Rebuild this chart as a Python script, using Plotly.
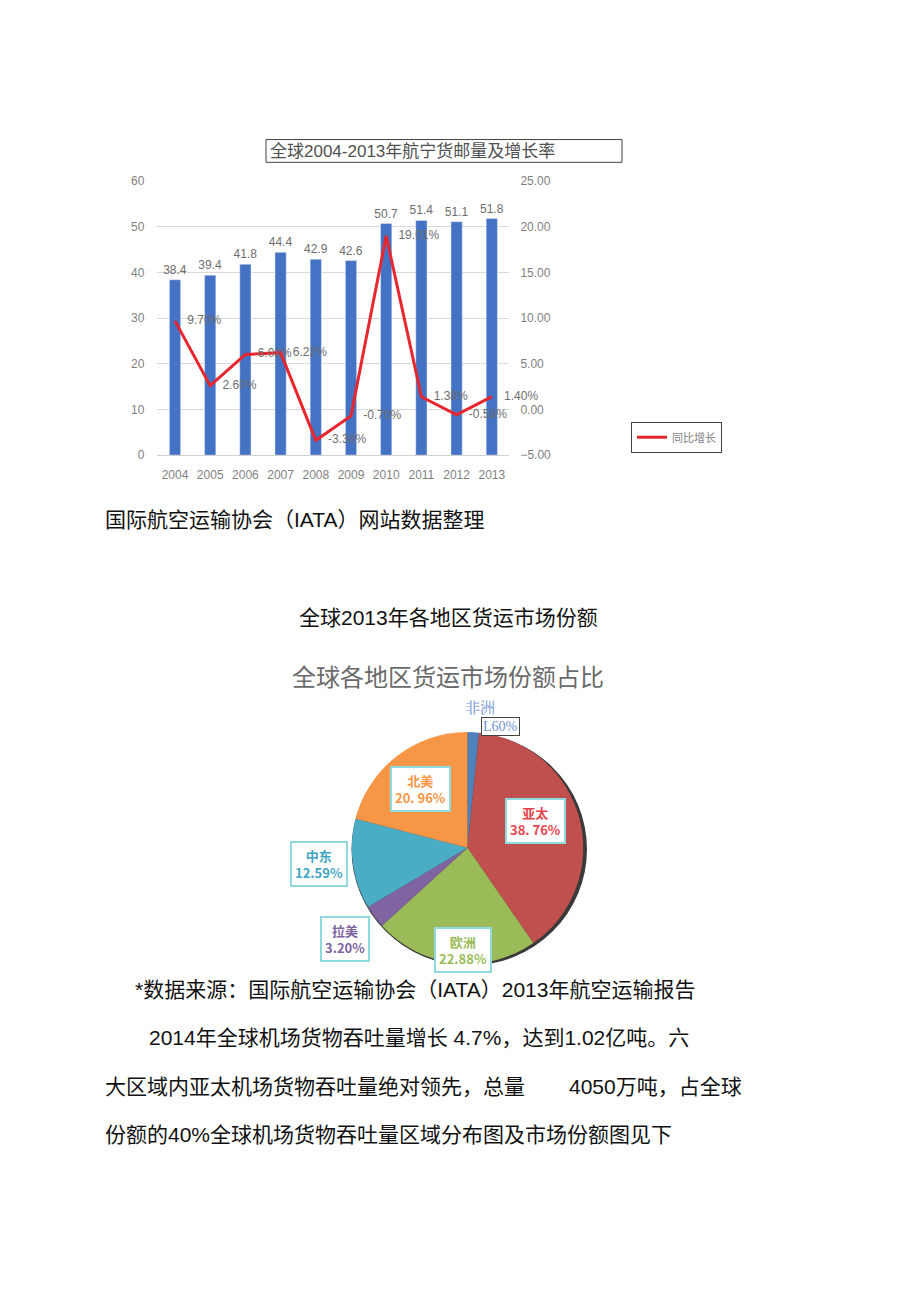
import plotly.graph_objects as go

W, H = 920, 1303

years = ["2004", "2005", "2006", "2007", "2008", "2009", "2010", "2011", "2012", "2013"]
volume = [38.4, 39.4, 41.8, 44.4, 42.9, 42.6, 50.7, 51.4, 51.1, 51.8]
growth = [9.70, 2.60, 6.02, 6.22, -3.38, -0.70, 19.01, 1.38, -0.58, 1.40]
growth_ticks = [-5, 0, 5, 10, 15, 20, 25]

regions = ["非洲", "亚太", "欧洲", "拉美", "中东", "北美"]
shares = [1.60, 38.76, 22.88, 3.20, 12.59, 20.96]
share_text = ["L60%", "38. 76%", "22.88%", "3.20%", "12.59%", "20. 96%"]
region_colors = ["#4f81bd", "#c0504d", "#9bbb59", "#8064a2", "#4bacc6", "#f79646"]
label_colors = ["#6f93d2", "#e8434b", "#9bbb59", "#8064a2", "#3fa6c4", "#f79646"]

CJK = "Liberation Sans, Noto Sans CJK SC, sans-serif"
GRAY = "#7f7f7f"


def px_x(x):
    return x / W


def px_y(y):
    return 1 - y / H


fig = go.Figure()

fig.add_trace(go.Bar(
    x=years, y=volume, width=0.32, marker_color="#4472c4",
    text=[f"{v:.1f}" for v in volume], textposition="outside", constraintext="none",
    textfont=dict(size=12, color="#6d6d6d"), cliponaxis=False,
    showlegend=False, xaxis="x", yaxis="y",
))

fig.add_trace(go.Scatter(
    x=years, y=growth, mode="lines+markers+text", name="同比增长",
    line=dict(color="#e8262e", width=3),
    marker=dict(size=18, color="rgba(0,0,0,0)"),
    text=[f"{v:.2f}%" for v in growth], textposition="middle right",
    textfont=dict(size=12, color="#6d6d6d"), cliponaxis=False,
    xaxis="x", yaxis="y2",
))

# soft dark edge under the pie
fig.add_shape(type="circle", xref="paper", yref="paper", layer="below",
              x0=px_x(351.5), x1=px_x(587), y0=px_y(969), y1=px_y(734),
              fillcolor="#3a3a3a", line_width=0)

fig.add_trace(go.Pie(
    labels=regions, values=shares, sort=False, direction="clockwise",
    rotation=0, marker=dict(colors=region_colors, line=dict(width=0)),
    textinfo="none", hoverinfo="label+percent", showlegend=False,
    domain=dict(x=[px_x(350), px_x(585)], y=[px_y(967), px_y(733)]),
))

# chart title box
fig.add_shape(type="rect", xref="paper", yref="paper",
              x0=px_x(266), x1=px_x(622), y0=px_y(157), y1=px_y(134),
              line=dict(color="#404040", width=1))

ann = []


def text(x, y, s, size, color="#111111", xanchor="left", **kw):
    ann.append(dict(x=px_x(x), y=px_y(y), xref="paper", yref="paper", text=s,
                    showarrow=False, xanchor=xanchor, yanchor="middle",
                    font=dict(size=size, color=color, family=kw.pop("family", CJK)), **kw))


text(268, 146, "全球2004-2013年航宁货邮量及增长率", 17, "#505050")
text(103, 518, "国际航空运输协会（IATA）网站数据整理", 21)
text(448, 617, "全球2013年各地区货运市场份额", 21, xanchor="center")
text(448, 678, "全球各地区货运市场份额占比", 24, "#6a6a6a", xanchor="center")

# pie labels
text(480, 707, regions[0], 15, label_colors[0], xanchor="center",
     family="Noto Serif CJK SC, Noto Sans CJK SC")
text(500, 727, share_text[0], 14, label_colors[0], xanchor="center",
     family="Liberation Serif, serif", bordercolor="#404040", borderwidth=1,
     borderpad=1, bgcolor="white")
label_pos = {1: (535, 823), 2: (463, 953), 3: (345, 942), 4: (319, 866), 5: (420, 790)}
for i, (lx, ly) in label_pos.items():
    text(lx, ly, f"<b>{regions[i]}</b><br><b>{share_text[i]}</b>", 13, label_colors[i],
         xanchor="center", bordercolor="#8fdadf", borderwidth=2, borderpad=3,
         bgcolor="white", family="Noto Sans CJK SC")

text(133, 993, "*数据来源：国际航空运输协会（IATA）2013年航空运输报告", 21)
text(147, 1042, "2014年全球机场货物吞吐量增长 4.7%，达到1.02亿吨。六", 21)
text(103, 1091, "大区域内亚太机场货物吞吐量绝对领先，总量", 21)
text(567, 1091, "4050万吨，占全球", 21)
text(103, 1140, "份额的40%全球机场货物吞吐量区域分布图及市场份额图见下", 21)

fig.update_layout(
    width=W, height=H, margin=dict(l=0, r=0, t=0, b=0, pad=0),
    paper_bgcolor="white", plot_bgcolor="white",
    font=dict(family=CJK, color=GRAY, size=12),
    annotations=ann, bargap=0.68,
    xaxis=dict(domain=[px_x(157.4), px_x(509.4)], anchor="y", type="category",
               range=[-0.5, 9.5], showgrid=False, showline=True, linecolor="#d0d0d0",
               ticks="", ticklabelstandoff=8, tickfont=dict(size=12, color=GRAY)),
    yaxis=dict(domain=[px_y(453), px_y(176)], range=[0, 60], dtick=10,
               showgrid=True, gridcolor="#d9d9d9", zeroline=False, showline=False,
               ticklabelstandoff=12, tickfont=dict(size=12, color=GRAY)),
    yaxis2=dict(overlaying="y", side="right", range=[-5, 25], tickvals=growth_ticks,
                tickformat=".2f", ticksuffix="%", showgrid=False, zeroline=False,
                showline=False, ticklabelstandoff=10, tickfont=dict(size=12, color=GRAY)),
    legend=dict(x=px_x(631), y=px_y(435), xanchor="left", yanchor="middle",
                bordercolor="#404040", borderwidth=1, itemwidth=30,
                font=dict(size=11, color=GRAY), bgcolor="white",
                tracegroupgap=0, itemclick=False),
)

fig.write_html("out.html", config={"displayModeBar": False},
               post_script="document.body.style.margin='0px';")
